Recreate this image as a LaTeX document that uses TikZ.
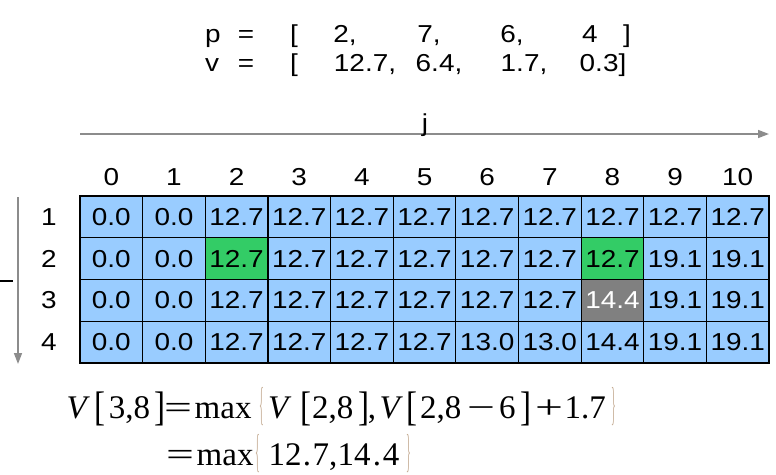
\documentclass[tikz,border=0pt]{standalone}
\usepackage{fontspec}
\setmainfont[FakeStretch=1.14]{Liberation Sans}
\newfontfamily\eqfont{Liberation Serif}
\usetikzlibrary{arrows.meta}
\definecolor{cellblue}{HTML}{99CCFF}
\definecolor{cellgreen}{HTML}{33CC66}
\definecolor{cellgray}{HTML}{808080}
\definecolor{axisgray}{HTML}{8C8C8C}
\definecolor{bracecol}{RGB}{195,170,145}
\newcommand{\cellrow}[2]{%
  \foreach \v [count=\k from 0] in {#2} {
    \pgfmathtruncatemacro{\code}{#1*100+\k}
    \ifnum\code=202 \def\sty{hilite}\else
    \ifnum\code=208 \def\sty{hilite}\else
    \ifnum\code=308 \def\sty{cur}\else \def\sty{plain}\fi\fi\fi
    \node[cell,\sty] (c-#1-\k) at ({80+62.64*(\k+0.5)},{196+41.75*(#1-0.5)}) {\v};
  }}
\newcommand{\tallbr}[1]{\raisebox{-2pt}{\scalebox{1}[1.25]{#1}}}
\newcommand{\wideop}[1]{\scalebox{1.5}[1]{#1}}
\newcommand{\thinbr}[1]{\raisebox{-1pt}{\scalebox{0.3}[1.4]{#1}}}
\begin{document}
\begin{tikzpicture}[x=1pt,y=-1pt,
  cell/.style={draw=black,line width=1.2pt,fill=cellblue,minimum width=62.64pt,minimum height=41.75pt,inner sep=0pt,font=\fontsize{24.5}{30}\selectfont},
  plain/.style={},
  hilite/.style={fill=cellgreen},
  cur/.style={fill=cellgray,text=white},
  lbl/.style={font=\fontsize{24.5}{30}\selectfont,inner sep=0pt},
  eq/.style={anchor=base west,inner sep=0pt,font=\eqfont\fontsize{33}{38}\selectfont},
  brace/.style={eq,text=bracecol},
  axis/.style={draw=axisgray,line width=1.5pt,-{Triangle[length=11pt,width=8pt]}}]
\useasboundingbox (0,0) rectangle (776,474);
% top vectors
\node[lbl,anchor=base] (pl) at (213,42) {p};
\node[lbl,anchor=base] (pe) at (246,42) {=};
\node[lbl,anchor=base] (pb) at (294,42) {[};
\node[lbl,anchor=base] (p1) at (345,42) {2,};
\node[lbl,anchor=base] (p2) at (429,42) {7,};
\node[lbl,anchor=base] (p3) at (512,42) {6,};
\node[lbl,anchor=base] (p4) at (590,42) {4};
\node[lbl,anchor=base] (pr) at (627,42) {]};
\node[lbl,anchor=base] (vl) at (212,71) {v};
\node[lbl,anchor=base] (ve) at (246,71) {=};
\node[lbl,anchor=base] (vb) at (294,71) {[};
\node[lbl,anchor=base] (v1) at (365,71) {12.7,};
\node[lbl,anchor=base] (v2) at (439,71) {6.4,};
\node[lbl,anchor=base] (v3) at (524,71) {1.7,};
\node[lbl,anchor=base] (v4) at (603,71) {0.3]};
% axes
\coordinate (jstart) at (80,134);
\coordinate (jend) at (769,134);
\draw[axis] (jstart) -- (jend);
\node[lbl,anchor=base] (jlab) at (425,131) {j};
\coordinate (istart) at (18,197);
\coordinate (iend) at (18,364);
\draw[axis] (istart) -- (iend);
\coordinate (ma) at (0,281);
\coordinate (mb) at (13,281);
\draw[line width=2pt] (ma) -- (mb);
% column headers
\foreach \c in {0,...,10}{
  \node[lbl,anchor=base] (h\c) at ({80+62.64*(\c+0.5)},185) {\c};
}
% row labels
\foreach \r in {1,...,4}{
  \node[lbl] (r\r) at (49,{196+41.75*(\r-0.5)}) {\r};
}
% cells
\cellrow{1}{0.0,0.0,12.7,12.7,12.7,12.7,12.7,12.7,12.7,12.7,12.7}
\cellrow{2}{0.0,0.0,12.7,12.7,12.7,12.7,12.7,12.7,12.7,19.1,19.1}
\cellrow{3}{0.0,0.0,12.7,12.7,12.7,12.7,12.7,12.7,14.4,19.1,19.1}
\cellrow{4}{0.0,0.0,12.7,12.7,12.7,12.7,13.0,13.0,14.4,19.1,19.1}
% equation line 1
\node[eq] (e1v) at (66.3,418) {\textit{V}};
\node[eq] (e1lk) at (94,418) {\tallbr{[}};
\node[eq] (e1a) at (108.6,418) {3,8};
\node[eq] (e1rk) at (154,418) {\tallbr{]}};
\node[eq] (e1eq) at (164,418) {\wideop{=}};
\node[eq] (e1max) at (194.5,418) {max};
\node[brace] (e1lb) at (259,418) {\thinbr{\{}};
\node[eq] (e1v2) at (268,418) {\textit{V}};
\node[eq] (e1lk2) at (300,418) {\tallbr{[}};
\node[eq] (e1b) at (312,418) {2,8};
\node[eq] (e1rk2) at (358,418) {\tallbr{]}};
\node[eq] (e1cm) at (367.7,418) {,};
\node[eq] (e1v3) at (379.3,418) {\textit{V}};
\node[eq] (e1lk3) at (406,418) {\tallbr{[}};
\node[eq] (e1c) at (420,418) {2,8};
\node[eq] (e1min) at (467,418) {\wideop{−}};
\node[eq] (e1six) at (499,418) {6};
\node[eq] (e1rk3) at (520,418) {\tallbr{]}};
\node[eq] (e1plus) at (535,418) {\wideop{+}};
\node[eq] (e1d) at (564.3,418) {1.7};
\node[brace] (e1rb) at (611,418) {\thinbr{\}}};
% equation line 2
\node[eq] (e2eq) at (166,465) {\wideop{=}};
\node[eq] (e2max) at (196.5,465) {max};
\node[brace] (e2lb) at (255,465) {\thinbr{\{}};
\node[eq] (e2a) at (268.3,465) {12};
\node[eq] (e2p) at (302.7,465) {.};
\node[eq] (e2b) at (312.3,465) {7,};
\node[eq] (e2c) at (337.5,465) {14};
\node[eq] (e2q) at (372.7,465) {.};
\node[eq] (e2d) at (382.6,465) {4};
\node[brace] (e2rb) at (406,465) {\thinbr{\}}};
\end{tikzpicture}
\end{document}
